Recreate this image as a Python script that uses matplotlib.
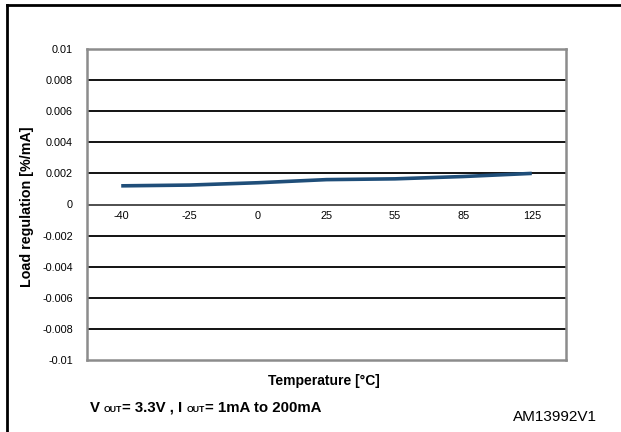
import matplotlib.pyplot as plt
from matplotlib.lines import Line2D
from matplotlib.offsetbox import TextArea, HPacker, AnchoredOffsetbox

plt.rcParams['font.family'] = ['Liberation Sans', 'DejaVu Sans']

# Load regulation vs temperature
temps = ['-40', '-25', '0', '25', '55', '85', '125']
load_reg = [0.0012, 0.00125, 0.0014, 0.0016, 0.00165, 0.0018, 0.002]
y_ticks = [0.01, 0.008, 0.006, 0.004, 0.002, 0, -0.002, -0.004, -0.006, -0.008, -0.01]
y_ticklabels = ['0.01', '0.008', '0.006', '0.004', '0.002', '0',
                '-0.002', '-0.004', '-0.006', '-0.008', '-0.01']

fig = plt.figure(figsize=(6.21, 4.32), dpi=100)
ax = fig.add_axes([87 / 621, 1 - 360 / 432, (566 - 87) / 621, (360 - 49) / 432])

x = list(range(len(temps)))
ax.plot(x, load_reg, color='#1f4e79', linewidth=2.6, solid_capstyle='butt', zorder=3)

ax.set_xlim(-0.5, len(temps) - 0.5)
ax.set_ylim(-0.01, 0.01)
ax.set_yticks(y_ticks)
ax.set_yticklabels(y_ticklabels, fontsize=7.8)
ax.tick_params(axis='y', length=0, pad=10)
ax.set_xticks([])

# horizontal grid lines
for yv in y_ticks[1:-1]:
    color = '#404040' if yv == 0 else 'black'
    ax.axhline(yv, color=color, linewidth=1.3, zorder=1)

for s in ax.spines.values():
    s.set_color('#8c8c8c')
    s.set_linewidth(1.8)

# category labels sit just under the zero line
for xi, t in zip(x, temps):
    ax.text(xi, -0.0004, t, ha='center', va='top', fontsize=7.8)

ax.set_ylabel('Load regulation [%/mA]', fontsize=10.3, fontweight='bold')
ax.yaxis.set_label_coords(-(87 - 34) / 479, (360 - 207) / 311)

fig.text(324 / 621, 1 - 381 / 432, 'Temperature [°C]', ha='center', va='center',
         fontsize=10, fontweight='bold')

# conditions line with small "OUT" subscripts
parts = [('V ', 10.8), ('OUT', 6.3), ('= 3.3V , I ', 10.8), ('OUT', 6.3), ('= 1mA to 200mA', 10.8)]
boxes = [TextArea(t, textprops=dict(fontsize=fs, fontweight='bold')) for t, fs in parts]
row = HPacker(children=boxes, align='baseline', pad=0, sep=0)
ab = AnchoredOffsetbox(loc='center left', child=row, frameon=False,
                       bbox_to_anchor=(90 / 621, 1 - 408 / 432),
                       bbox_transform=fig.transFigure, borderpad=0, pad=0)
fig.add_artist(ab)

fig.text(597 / 621, 1 - 417 / 432, 'AM13992V1', ha='right', va='center', fontsize=11)

# outer frame: left and top edges
fig.add_artist(Line2D([7 / 621, 7 / 621], [0, 1 - 5 / 432], transform=fig.transFigure,
                      color='black', linewidth=2))
fig.add_artist(Line2D([7 / 621, 1], [1 - 5 / 432, 1 - 5 / 432], transform=fig.transFigure,
                      color='black', linewidth=2))

fig.savefig('out.png', dpi=100)
